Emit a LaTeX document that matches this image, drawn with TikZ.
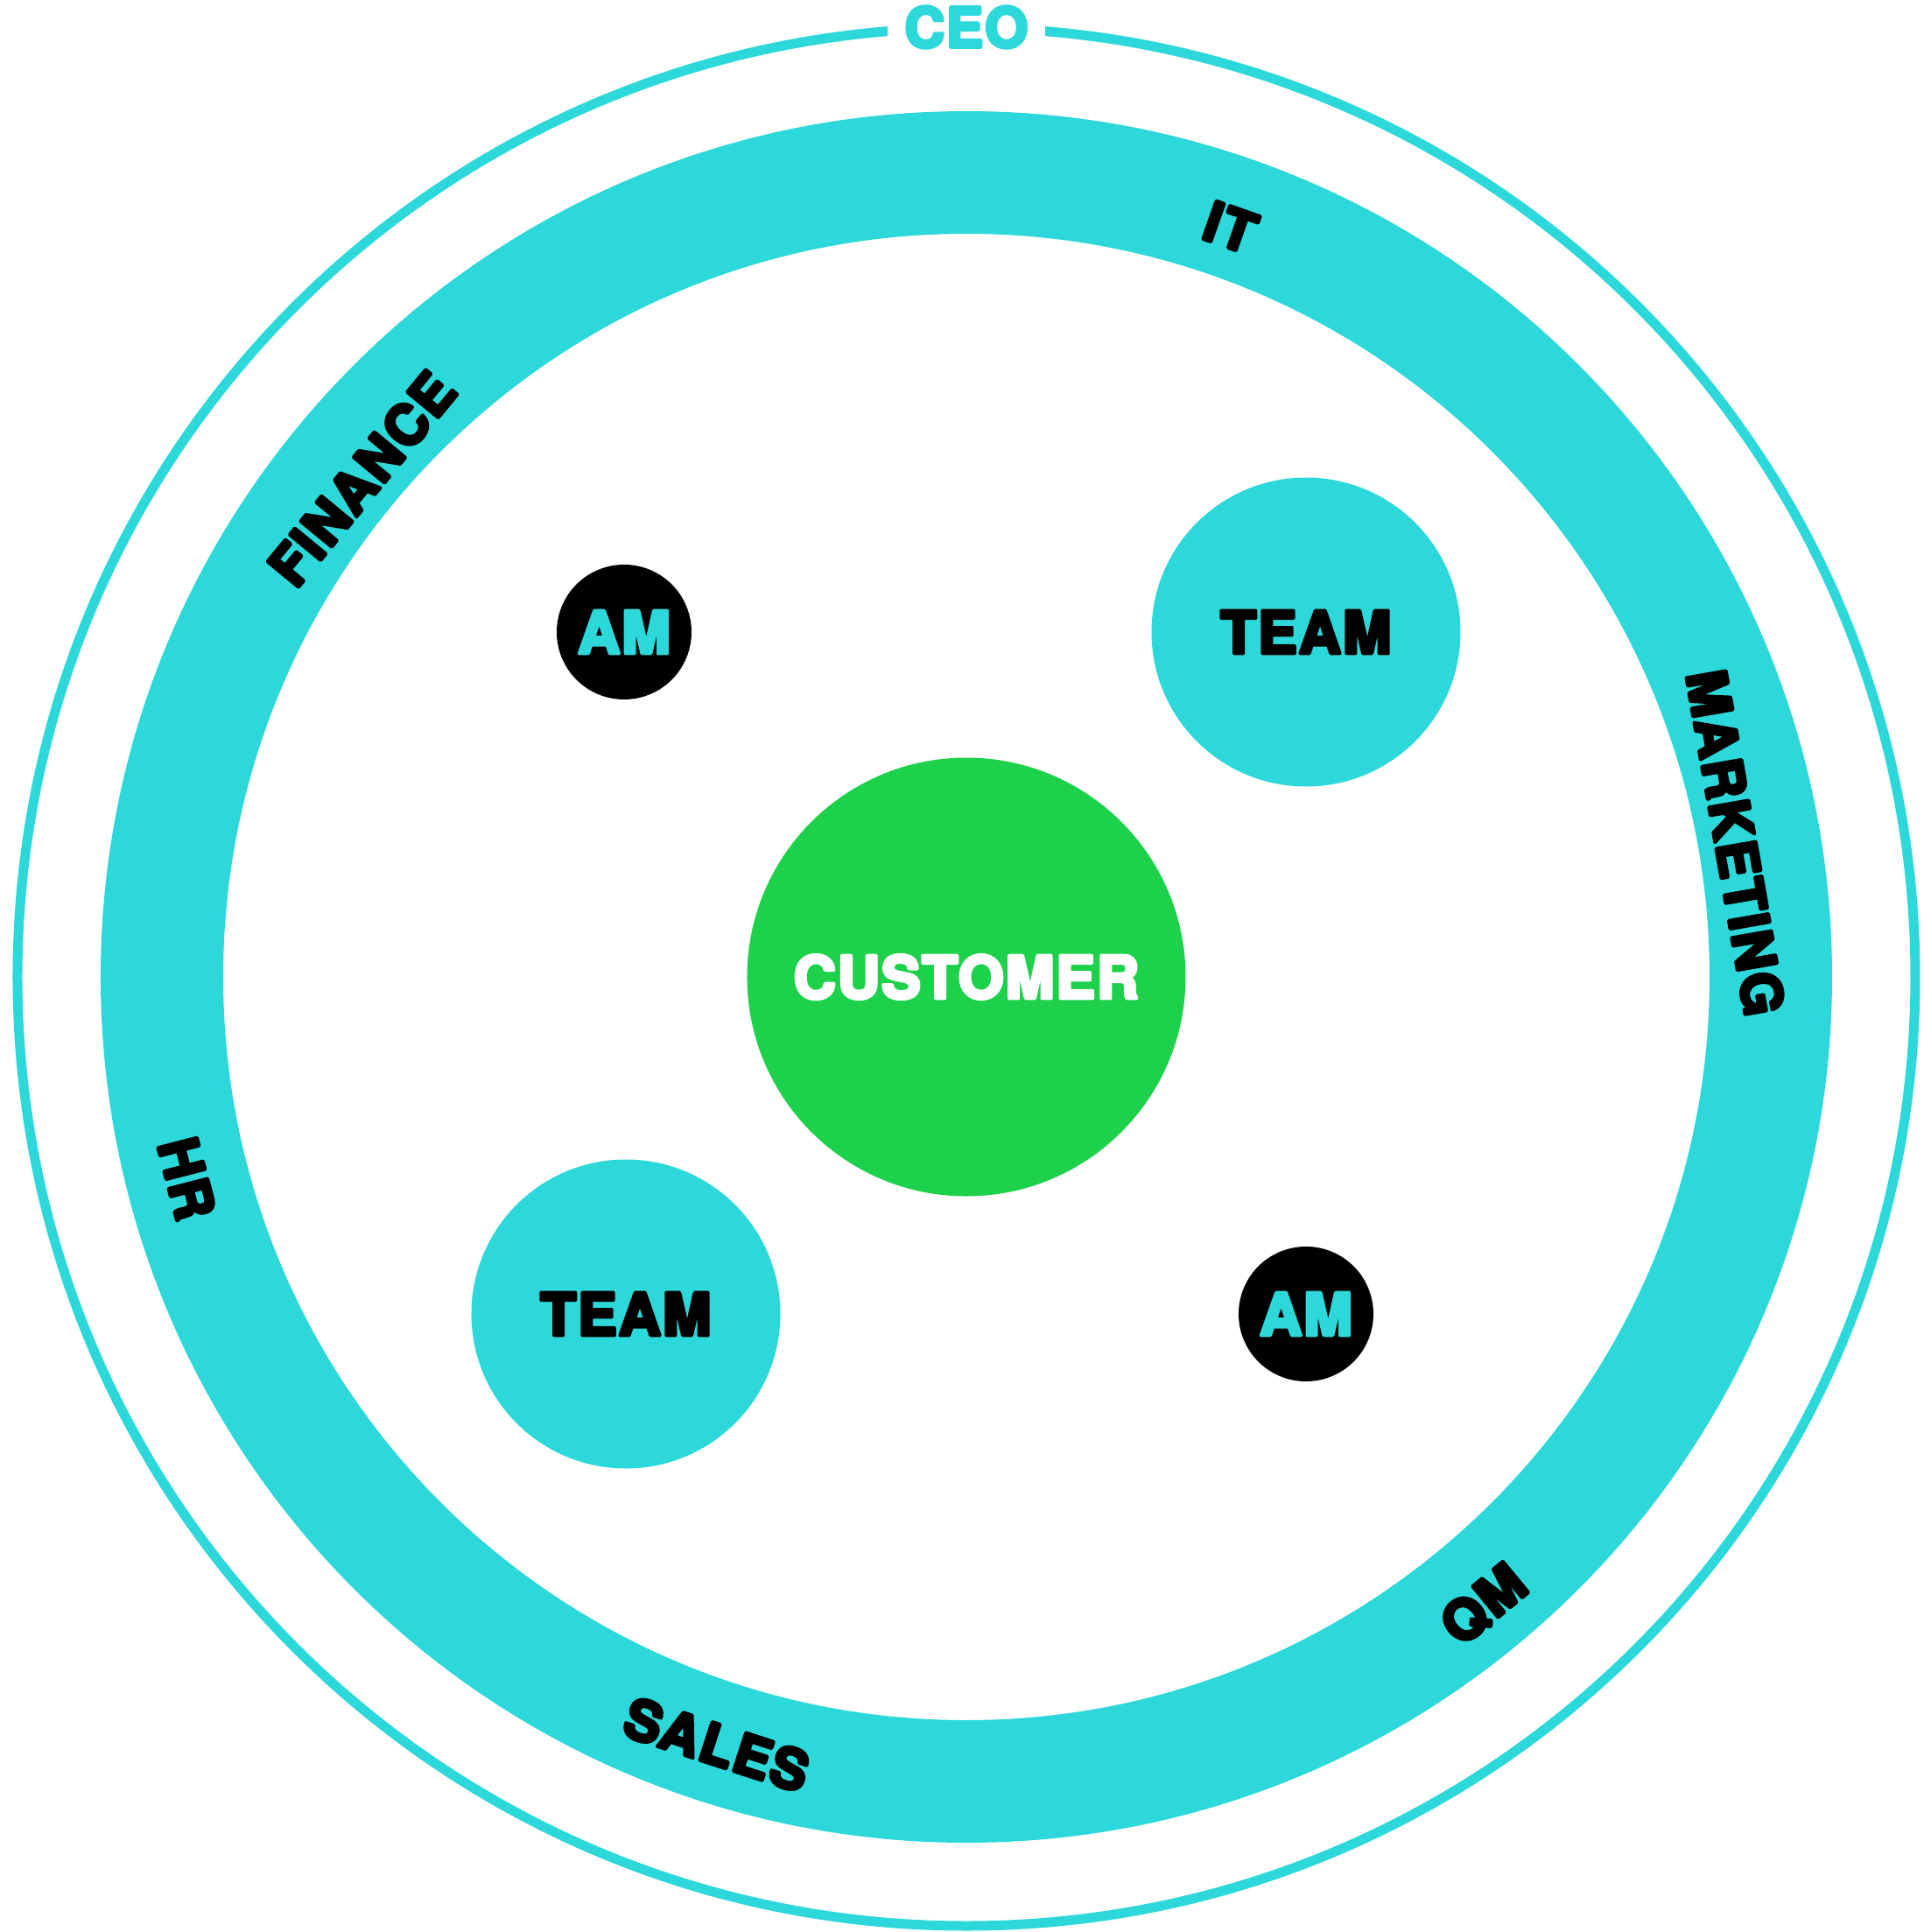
\documentclass[tikz,border=0pt]{standalone}
\usepackage{fontspec}
\setmainfont{TeX Gyre Heros}[BoldFeatures={FakeBold=6, LetterSpace=3}]
\usepackage{tikz}
\definecolor{ringcyan}{HTML}{2CD8D9}
\definecolor{custgreen}{HTML}{1DD14B}

\begin{document}
\begin{tikzpicture}[
  line join=round,
  disc/.style={circle, inner sep=0pt, font=\fontsize{19}{19}\selectfont\bfseries},
  custdisc/.style={disc, fill=custgreen, text=white, minimum size=5.01cm},
  teamdisc/.style={disc, fill=ringcyan, text=black, minimum size=3.53cm},
  amdisc/.style={disc, fill=black, text=ringcyan, minimum size=1.54cm},
  dept/.style={inner sep=0pt, font=\fontsize{18}{18}\selectfont\bfseries}
]
\useasboundingbox (-11.04,-10.91) rectangle (10.94,11.16);
\draw[ringcyan, line width=0.11cm] (0,0) circle (10.84);
\draw[ringcyan, line width=1.40cm] (0,0) circle (9.19);
\node[dept, fill=white, text=ringcyan, inner xsep=0.2cm, inner ysep=0.1cm] (ceo) at (90:10.85) {CEO};
\foreach \ang/\rad/\rot/\dep in {70.6/9.08/-19.4/IT, 140.5/8.95/50.5/FINANCE, 9.9/8.92/-80.1/MARKETING,
  194.5/9.20/-75.5/HR, -108/9.22/-18/SALES, -50.5/9.29/39.5/QM}
  \node[dept, rotate=\rot] (\dep) at (\ang:\rad) {\dep};
\node[custdisc] (customer) at (0,0) {CUSTOMER};
\node[teamdisc] (team1) at (3.88,3.94) {TEAM};
\node[teamdisc] (team2) at (-3.89,-3.85) {TEAM};
\node[amdisc] (am1) at (-3.91,3.94) {AM};
\node[amdisc] (am2) at (3.88,-3.85) {AM};
\end{tikzpicture}
\end{document}
